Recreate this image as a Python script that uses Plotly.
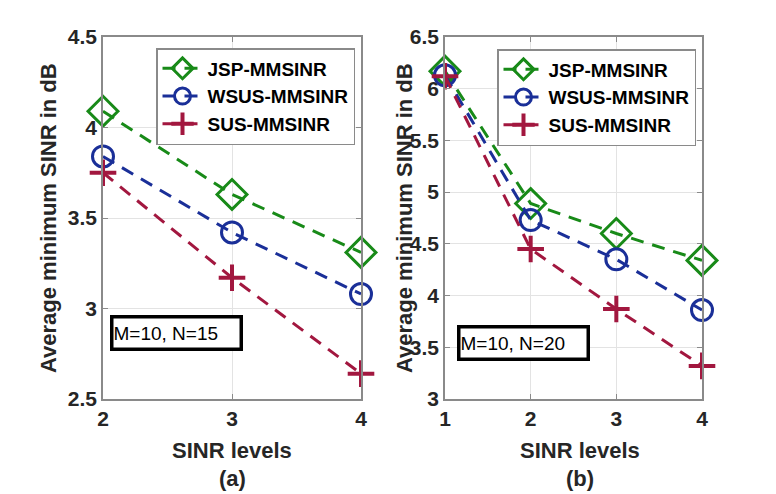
import plotly.graph_objects as go

# ---- data ----
x_a = [2, 3, 4]
jsp_a = [4.09, 3.63, 3.31]
wsus_a = [3.84, 3.42, 3.08]
sus_a = [3.75, 3.17, 2.64]

x_b = [1, 2, 3, 4]
jsp_b = [6.17, 4.89, 4.60, 4.34]
wsus_b = [6.13, 4.73, 4.35, 3.86]
sus_b = [6.12, 4.45, 3.87, 3.32]

names = ["JSP-MMSINR", "WSUS-MMSINR", "SUS-MMSINR"]
colors = ["#188a18", "#1a2f98", "#a2173f"]
symbols = ["diamond-open", "circle-open", "cross-thin-open"]
sizes = [23, 21, 19]
mlw = [3, 3, 4]

W, H = 776, 494
def px(x):
    return x / W
def py(y):
    return 1 - y / H

FONT = "Liberation Sans, Arial, sans-serif"
TXT = "#262626"

fig = go.Figure()

series_a = [jsp_a, wsus_a, sus_a]
series_b = [jsp_b, wsus_b, sus_b]

for k, (xs, series, xa, ya, lg) in enumerate([
        (x_a, series_a, "x", "y", "legend"),
        (x_b, series_b, "x2", "y2", "legend2")]):
    for i in range(3):
        fig.add_trace(go.Scatter(
            x=xs, y=series[i], name=names[i], mode="lines+markers",
            line=dict(color=colors[i], width=3, dash="13px,9px"),
            marker=dict(symbol=symbols[i], size=sizes[i], color=colors[i],
                        line=dict(color=colors[i], width=mlw[i])),
            xaxis=xa, yaxis=ya, legend=lg,
            cliponaxis=False,
        ))

axis_common = dict(
    showgrid=True, gridcolor="#e3e3e3", gridwidth=1,
    showline=True, linecolor="#8a8a8a", linewidth=1.5, mirror="ticks",
    ticks="inside", ticklen=5, tickcolor="#8a8a8a",
    tickfont=dict(family=FONT, size=21, color=TXT, weight="bold"),
    zeroline=False, automargin=False,
)

ydom = [py(399), py(37)]
legend_common = dict(xanchor="left", yanchor="top",
                     bgcolor="white", bordercolor="#8a8a8a", borderwidth=1.5,
                     font=dict(family=FONT, size=19, color="black", weight="bold"),
                     itemwidth=40)
fig.update_layout(
    width=W, height=H,
    margin=dict(l=0, r=0, t=0, b=0, autoexpand=False),
    paper_bgcolor="white", plot_bgcolor="white",
    xaxis=dict(domain=[px(103), px(361)], range=[2, 4], tickvals=[2, 3, 4],
               anchor="y", **axis_common),
    yaxis=dict(domain=ydom, range=[2.5, 4.5], tickvals=[2.5, 3, 3.5, 4, 4.5],
               ticktext=["2.5", "3", "3.5", "4", "4.5"], anchor="x", **axis_common),
    xaxis2=dict(domain=[px(445), px(702)], range=[1, 4], tickvals=[1, 2, 3, 4],
                anchor="y2", **axis_common),
    yaxis2=dict(domain=ydom, range=[3, 6.5], tickvals=[3, 3.5, 4, 4.5, 5, 5.5, 6, 6.5],
                ticktext=["3", "3.5", "4", "4.5", "5", "5.5", "6", "6.5"],
                anchor="x2", **axis_common),
    legend=dict(x=px(156), y=py(48), **legend_common),
    legend2=dict(x=px(497), y=py(49), **legend_common),
    showlegend=True,
)

ann = []
for xc in [48, 404]:
    ann.append(dict(text="Average minimum SINR in dB", x=px(xc), y=py(218),
                    xref="paper", yref="paper", showarrow=False, textangle=-90,
                    xanchor="center", yanchor="middle",
                    font=dict(family=FONT, size=22, color=TXT, weight="bold")))
for xc, lab in [(232, "(a)"), (580, "(b)")]:
    ann.append(dict(text="SINR levels", x=px(xc), y=py(450), xref="paper", yref="paper",
                    showarrow=False, xanchor="center", yanchor="middle",
                    font=dict(family=FONT, size=22, color=TXT, weight="bold")))
    ann.append(dict(text=lab, x=px(xc), y=py(478), xref="paper", yref="paper",
                    showarrow=False, xanchor="center", yanchor="middle",
                    font=dict(family=FONT, size=22, color=TXT, weight="bold")))
for cx, cy, t in [(176.5, 332.5, "M=10, N=15"), (523.5, 342.5, "M=10, N=20")]:
    ann.append(dict(text=t, x=px(cx), y=py(cy), xref="paper", yref="paper",
                    showarrow=False, align="left", width=126, height=29,
                    xanchor="center", yanchor="middle",
                    bgcolor="white", bordercolor="black", borderwidth=3.5, borderpad=0,
                    font=dict(family=FONT, size=19, color="black")))
fig.update_layout(annotations=ann)

fig.write_html("out.html")
